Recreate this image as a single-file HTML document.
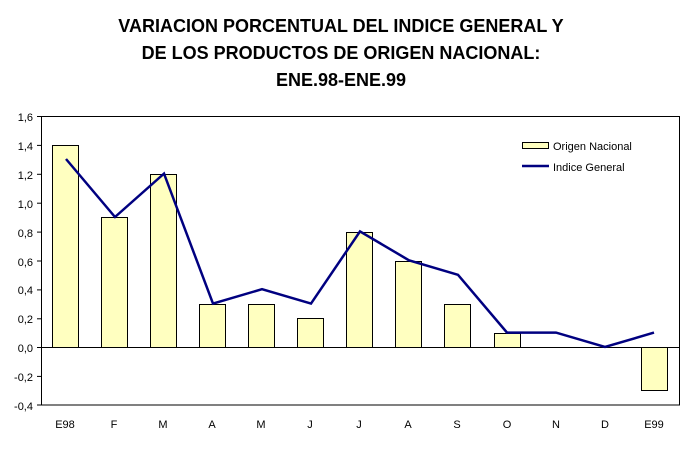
<!DOCTYPE html><html><head><style>body{margin:0;background:#fff}</style></head><body>
<svg width="684" height="446" xmlns="http://www.w3.org/2000/svg" font-family="Liberation Sans, sans-serif">
<g font-weight="bold" font-size="18" text-anchor="middle" fill="#000">
<text x="341" y="32">VARIACION PORCENTUAL DEL INDICE GENERAL Y</text>
<text x="341" y="59">DE LOS PRODUCTOS DE ORIGEN NACIONAL:</text>
<text x="341" y="86">ENE.98-ENE.99</text>
</g>
<rect x="41.5" y="116.5" width="638" height="288.5" fill="none" stroke="#000"/>
<g stroke="#000">
<line x1="37" x2="42" y1="116.5" y2="116.5"/><line x1="37" x2="42" y1="145.4" y2="145.4"/><line x1="37" x2="42" y1="174.3" y2="174.3"/><line x1="37" x2="42" y1="203.2" y2="203.2"/><line x1="37" x2="42" y1="232.1" y2="232.1"/><line x1="37" x2="42" y1="261" y2="261"/><line x1="37" x2="42" y1="289.9" y2="289.9"/><line x1="37" x2="42" y1="318.8" y2="318.8"/><line x1="37" x2="42" y1="347.5" y2="347.5"/><line x1="37" x2="42" y1="376.4" y2="376.4"/><line x1="37" x2="42" y1="405" y2="405"/>
</g>
<g font-size="11" text-anchor="end">
<text x="33" y="121">1,6</text><text x="33" y="150">1,4</text><text x="33" y="179">1,2</text><text x="33" y="208">1,0</text><text x="33" y="237">0,8</text><text x="33" y="266">0,6</text><text x="33" y="294">0,4</text><text x="33" y="323">0,2</text><text x="33" y="352">0,0</text><text x="33" y="381">-0,2</text><text x="33" y="410">-0,4</text>
</g>
<g fill="#ffffc0" stroke="#000">
<rect x="52.5" y="145.5" width="26" height="202"/>
<rect x="101.5" y="217.5" width="26" height="130"/>
<rect x="150.5" y="174.5" width="26" height="173"/>
<rect x="199.5" y="304.5" width="26" height="43"/>
<rect x="248.5" y="304.5" width="26" height="43"/>
<rect x="297.5" y="318.5" width="26" height="29"/>
<rect x="346.5" y="232.5" width="26" height="115"/>
<rect x="395.5" y="261.5" width="26" height="86"/>
<rect x="444.5" y="304.5" width="26" height="43"/>
<rect x="494.5" y="333.5" width="26" height="14"/>
<rect x="641.5" y="347.5" width="26" height="43"/>
</g>
<line x1="41.5" x2="679" y1="347.5" y2="347.5" stroke="#000"/>
<polyline fill="none" stroke="#000080" stroke-width="2.5" points="66,159 115,217 164,173.6 213,303.6 262,289.2 311,303.6 360,231.4 409,260.3 458,274.8 507,332.6 556,332.6 605,347 654,332.6"/>
<g font-size="11" text-anchor="middle">
<text x="65" y="428">E98</text><text x="114" y="428">F</text><text x="163" y="428">M</text><text x="212" y="428">A</text><text x="261" y="428">M</text><text x="310" y="428">J</text><text x="359" y="428">J</text><text x="408" y="428">A</text><text x="457" y="428">S</text><text x="507" y="428">O</text><text x="556" y="428">N</text><text x="605" y="428">D</text><text x="654" y="428">E99</text>
</g>
<rect x="522.5" y="142.5" width="26" height="6" fill="#ffffc0" stroke="#000"/>
<line x1="522" x2="549" y1="166" y2="166" stroke="#000080" stroke-width="2.5"/>
<g font-size="11"><text x="553" y="150">Origen Nacional</text><text x="553" y="171">Indice General</text></g>
</svg></body></html>
